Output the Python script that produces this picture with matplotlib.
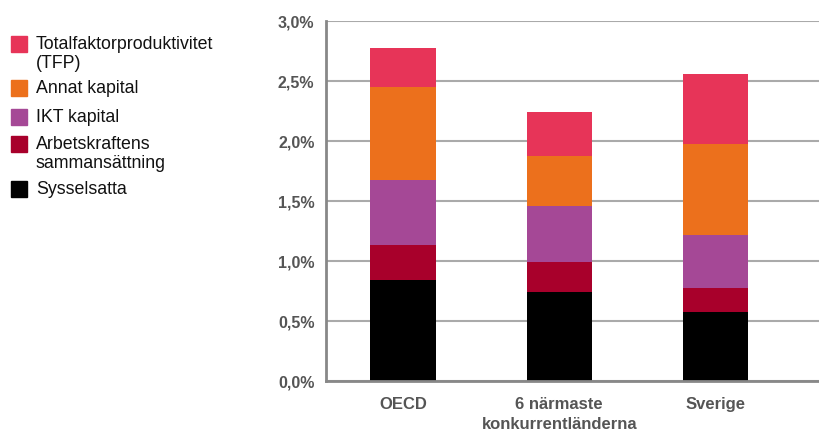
import numpy as np
import matplotlib
matplotlib.use("Agg")
import matplotlib.pyplot as plt
from matplotlib.patches import Rectangle

plt.rcParams['font.family'] = ['Liberation Sans', 'DejaVu Sans']

# data -----------------------------------------------------------
categories = ["OECD", "6 närmaste\nkonkurrentländerna", "Sverige"]
series_names = ["Sysselsatta", "Arbetskraftens\nsammansättning", "IKT kapital",
                "Annat kapital", "Totalfaktorproduktivitet\n(TFP)"]
sysselsatta = [0.84, 0.74, 0.57]
arbetskraft = [0.29, 0.25, 0.20]
ikt_kapital = [0.54, 0.465, 0.44]
annat_kapital = [0.775, 0.415, 0.76]
tfp = [0.325, 0.365, 0.585]
colors = ["#000000", "#A8002B", "#A54896", "#EC701C", "#E73458"]
yticks = [0.0, 0.5, 1.0, 1.5, 2.0, 2.5, 3.0]

# plot -----------------------------------------------------------
fig = plt.figure(figsize=(8.2, 4.31), dpi=100)
ax = fig.add_axes([0.397, 0.1144, 0.62, 0.8353])

x = np.arange(len(categories))
bottom = np.zeros(len(categories))
for vals, col in zip([sysselsatta, arbetskraft, ikt_kapital, annat_kapital, tfp], colors):
    ax.bar(x, vals, width=0.42, bottom=bottom, color=col, zorder=3)
    bottom += np.array(vals)

ax.set_ylim(0, 3.0)
ax.set_xlim(-0.498, 2.76)
ax.set_yticks(yticks)
ax.set_yticklabels([("%.1f%%" % t).replace(".", ",") for t in yticks])
ax.set_xticks(x)
ax.set_xticklabels(categories, linespacing=1.45)
ax.tick_params(axis="y", length=0, pad=8, labelsize=11.5, labelcolor="#555555")
ax.tick_params(axis="x", length=0, pad=11, labelsize=12, labelcolor="#555555")
for lab in ax.get_xticklabels() + ax.get_yticklabels():
    lab.set_fontweight("bold")

ax.grid(axis="y", color="#aaaaaa", linewidth=1.5, zorder=0)
ax.set_axisbelow(True)
for s in ["top", "right"]:
    ax.spines[s].set_visible(False)
for s in ["left", "bottom"]:
    ax.spines[s].set_color("#888888")
    ax.spines[s].set_linewidth(2)
    ax.spines[s].set_zorder(4)

# legend (drawn by hand so squares sit on first line) ------------
W, H = 820.0, 431.0
leg_items = list(zip(series_names, colors))[::-1]
leg_y = [45, 89, 118, 145, 190]
for (name, col), yy in zip(leg_items, leg_y):
    fig.patches.append(Rectangle((11 / W, 1 - (yy + 8) / H), 16 / W, 16 / H,
                                 transform=fig.transFigure, color=col))
    fig.text(36 / W, 1 - (yy - 9) / H, name, fontsize=12.8, va="top", ha="left",
             color="#111111", linespacing=1.15)

fig.savefig("out.png", dpi=100)
